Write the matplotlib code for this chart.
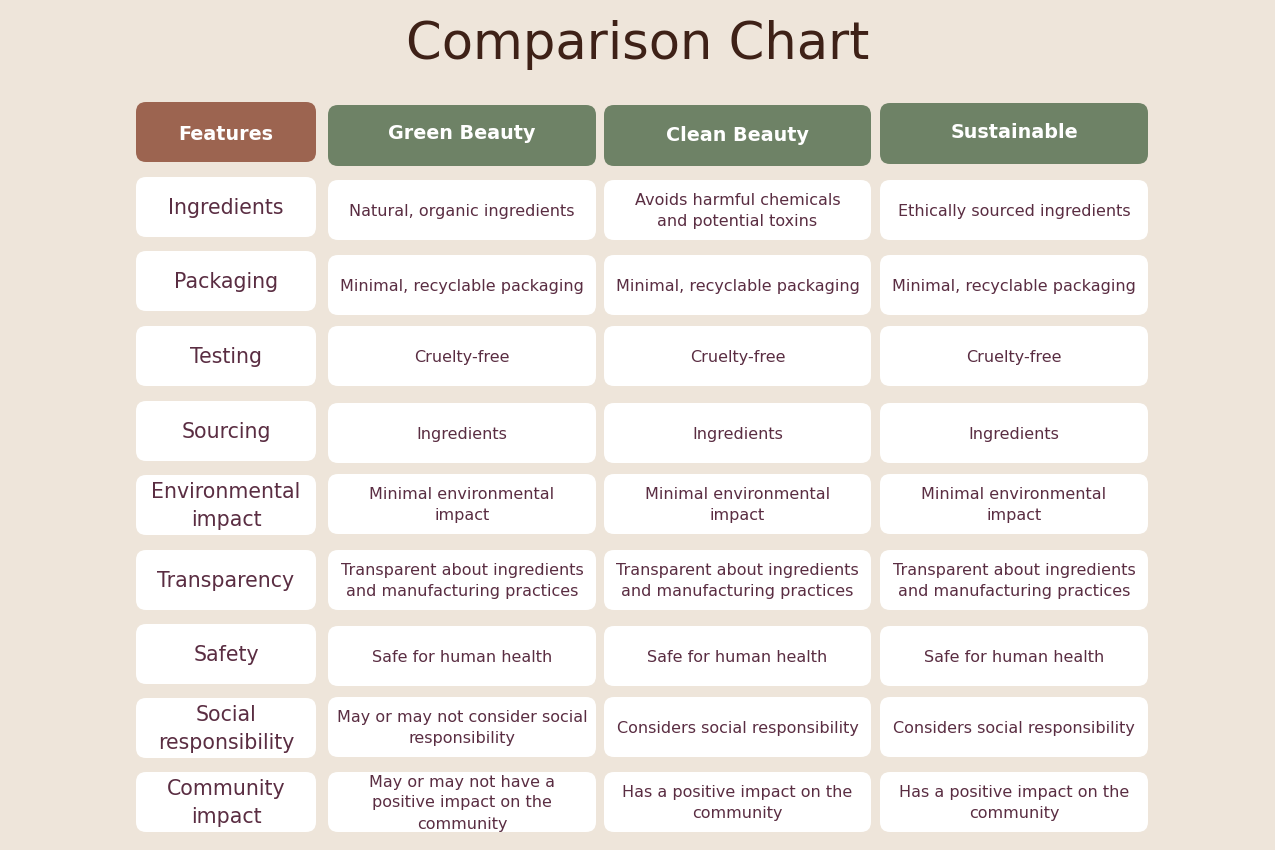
import matplotlib
matplotlib.use("Agg")
import matplotlib.pyplot as plt
from matplotlib.patches import FancyBboxPatch

# ------------------------------------------------------- data
title = "Comparison Chart"
headers = ["Features", "Green Beauty", "Clean Beauty", "Sustainable"]
features = ["Ingredients", "Packaging", "Testing", "Sourcing",
            "Environmental\nimpact", "Transparency", "Safety",
            "Social\nresponsibility", "Community\nimpact"]
green_beauty = ["Natural, organic ingredients",
                "Minimal, recyclable packaging",
                "Cruelty-free",
                "Ingredients",
                "Minimal environmental\nimpact",
                "Transparent about ingredients\nand manufacturing practices",
                "Safe for human health",
                "May or may not consider social\nresponsibility",
                "May or may not have a\npositive impact on the\ncommunity"]
clean_beauty = ["Avoids harmful chemicals\nand potential toxins",
                "Minimal, recyclable packaging",
                "Cruelty-free",
                "Ingredients",
                "Minimal environmental\nimpact",
                "Transparent about ingredients\nand manufacturing practices",
                "Safe for human health",
                "Considers social responsibility",
                "Has a positive impact on the\ncommunity"]
sustainable = ["Ethically sourced ingredients",
               "Minimal, recyclable packaging",
               "Cruelty-free",
               "Ingredients",
               "Minimal environmental\nimpact",
               "Transparent about ingredients\nand manufacturing practices",
               "Safe for human health",
               "Considers social responsibility",
               "Has a positive impact on the\ncommunity"]
columns = [features, green_beauty, clean_beauty, sustainable]

# ------------------------------------------------------- layout (pixels)
W, H = 1275, 850
BG = "#EEE5DA"
BROWN = "#9C6450"
GREEN = "#6E8266"
TXT = "#5A2D42"
TITLE_C = "#3E2117"
FONT = ["DejaVu Sans"]

col_x = [(136, 316), (328, 596), (604, 871), (880, 1148)]
head_y = [(102, 162), (105, 166), (105, 166), (103, 164)]
head_text_y = [134, 133, 135, 132]
row_y_first = [
    [177, 251, 326, 401, 475, 550, 624, 698, 772],
    [180, 255, 326, 403, 474, 550, 626, 697, 772],
    [180, 255, 326, 403, 474, 550, 626, 697, 772],
    [180, 255, 326, 403, 474, 550, 626, 697, 772],
]
ROW_H = 60

fig = plt.figure(figsize=(W / 100, H / 100), dpi=100, facecolor=BG)
ax = fig.add_axes([0, 0, 1, 1])
ax.set_xlim(0, W)
ax.set_ylim(H, 0)
ax.axis("off")

ax.text(W / 2, 45, title, ha="center", va="center", fontsize=36.8,
        color=TITLE_C, family=FONT)


def box(x0, x1, y0, y1, color):
    ax.add_patch(FancyBboxPatch((x0, y0), x1 - x0, y1 - y0,
                                boxstyle="round,pad=0,rounding_size=10",
                                fc=color, ec="none", zorder=1))


for c, (name, (x0, x1), (y0, y1)) in enumerate(zip(headers, col_x, head_y)):
    box(x0, x1, y0, y1, BROWN if c == 0 else GREEN)
    ax.text((x0 + x1) / 2, head_text_y[c], name, ha="center", va="center",
            fontsize=13.8, fontweight="bold", color="white", family=FONT,
            zorder=2)

for c, cells in enumerate(columns):
    x0, x1 = col_x[c]
    for r, label in enumerate(cells):
        y0 = row_y_first[c][r]
        box(x0, x1, y0, y0 + ROW_H, "white")
        ax.text((x0 + x1) / 2, y0 + ROW_H / 2 + 1, label,
                ha="center", va="center", color=TXT, family=FONT,
                fontsize=14.8 if c == 0 else 11.5,
                linespacing=1.45 if c == 0 else 1.5, zorder=2)

fig.savefig("out.png", dpi=100, facecolor=BG)
